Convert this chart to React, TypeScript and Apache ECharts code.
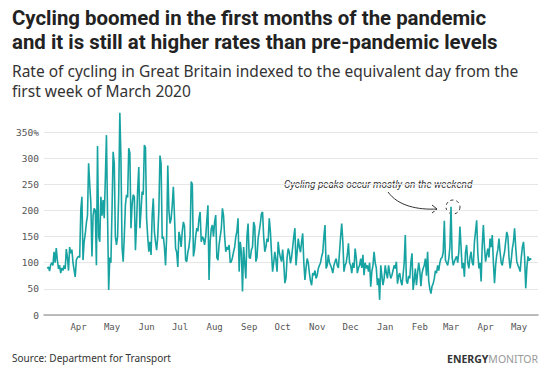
import React, { useEffect, useRef } from "react";
import * as echarts from "echarts";

// Daily cycling index (% of equivalent day in first week of March 2020), one array per month
const mar2020 = [null, null, null, 89, 92, 84, 96, 100, 95, 121, 100, 128, 105, 88, 95, 80, 90, 85, 95, 88, 126, 110, 85, 130, 118, 125, 100, 86, 73, 105, 110];
const apr2020 = [112, 110, 200, 226, 105, 140, 155, 176, 190, 290, 250, 215, 112, 190, 204, 200, 95, 323, 150, 140, 226, 190, 220, 185, 260, 344, 190, 48, 110, 100];
const may2020 = [200, 312, 290, 150, 134, 150, 230, 387, 300, 130, 102, 150, 210, 230, 225, 319, 310, 166, 210, 230, 226, 124, 175, 240, 283, 166, 200, 236, 230, 325, 320];
const jun2020 = [185, 150, 121, 140, 115, 190, 223, 159, 140, 124, 150, 200, 305, 290, 146, 150, 130, 95, 150, 286, 200, 175, 184, 210, 245, 190, 127, 120, 92, 159];
const jul2020 = [150, 130, 160, 178, 170, 105, 102, 120, 130, 150, 255, 250, 112, 125, 150, 166, 160, 185, 197, 140, 150, 146, 134, 150, 180, 210, 67, 140, 165, 172, 150];
const aug2020 = [178, 191, 110, 105, 134, 150, 165, 204, 190, 150, 121, 130, 125, 134, 100, 102, 110, 121, 130, 150, 160, 185, 83, 140, 120, 45, 130, 100, 70, 150, 175];
const sep2020 = [110, 108, 125, 130, 178, 170, 102, 110, 146, 160, 175, 194, 197, 150, 121, 130, 146, 140, 185, 160, 120, 83, 100, 121, 105, 83, 140, 120, 110, 102];
const oct2020 = [125, 100, 61, 70, 110, 127, 120, 99, 110, 130, 150, 166, 95, 120, 146, 130, 120, 140, 156, 100, 67, 90, 108, 100, 80, 65, 57, 80, 76, 85, 70];
const nov2020 = [76, 89, 95, 100, 112, 120, 150, 172, 89, 95, 115, 100, 95, 89, 80, 95, 102, 108, 95, 90, 120, 150, 175, 140, 83, 95, 100, 115, 137, 100];
const dec2020 = [95, 80, 100, 90, 127, 110, 80, 90, 95, 108, 90, 115, 76, 100, 89, 95, 83, 100, 54, 83, 95, 121, 100, 90, 57, 70, 29, 95, 75, 57, 70];
const jan2021 = [95, 80, 70, 95, 80, 70, 76, 85, 95, 89, 102, 60, 75, 80, 65, 57, 76, 100, 153, 65, 60, 75, 70, 100, 118, 48, 65, 89, 57, 80, 100];
const feb2021 = [85, 55, 80, 89, 95, 108, 75, 121, 65, 50, 41, 55, 60, 70, 85, 80, 95, 85, 100, 108, 110, 120, 180, 105, 100, 95, 108, 130];
const mar2021 = [207, 110, 95, 102, 108, 112, 100, 121, 169, 130, 89, 100, 73, 120, 134, 100, 89, 110, 121, 100, 95, 140, 160, 181, 120, 89, 100, 64, 134, 172, 130];
const apr2021 = [102, 115, 127, 110, 146, 130, 153, 100, 61, 95, 115, 125, 146, 120, 100, 95, 110, 120, 140, 159, 150, 110, 89, 105, 127, 140, 166, 130, 102, 95];
const may2021 = [90, 83, 110, 130, 140, 110, 51, 90, 112, 104, 108, 106];

const months: [number, number, (number | null)[]][] = [
  [2020, 3, mar2020], [2020, 4, apr2020], [2020, 5, may2020], [2020, 6, jun2020],
  [2020, 7, jul2020], [2020, 8, aug2020], [2020, 9, sep2020], [2020, 10, oct2020],
  [2020, 11, nov2020], [2020, 12, dec2020], [2021, 1, jan2021], [2021, 2, feb2021],
  [2021, 3, mar2021], [2021, 4, apr2021], [2021, 5, may2021],
];
const axisEndDay = 18; // axis runs to 18 May 2021
const monthLabels = ["Jan", "Feb", "Mar", "Apr", "May", "Jun", "Jul", "Aug", "Sep", "Oct", "Nov", "Dec"];
const yTicks = [0, 50, 100, 150, 200, 250, 300, 350];

const pad = (n: number) => (n < 10 ? "0" + n : "" + n);

function buildData() {
  const cats: string[] = [];
  const vals: (number | null)[] = [];
  months.forEach(([y, m, arr], mi) => {
    const n = mi === months.length - 1 ? axisEndDay : new Date(y, m, 0).getDate();
    for (let d = 1; d <= n; d++) {
      cats.push(`${y}-${pad(m)}-${pad(d)}`);
      vals.push(d <= arr.length ? arr[d - 1] : null);
    }
  });
  return { cats, vals };
}

export default function App() {
  const ref = useRef<HTMLDivElement>(null);
  useEffect(() => {
    if (!ref.current) return;
    const chart = echarts.init(ref.current, undefined, { renderer: "svg" });
    const { cats, vals } = buildData();
    const mono = "'DejaVu Sans Mono', monospace";
    const sans = "'Noto Sans', sans-serif";
    const head = "Roboto, 'Noto Sans', sans-serif";
    chart.setOption({
      animation: false,
      backgroundColor: "#ffffff",
      title: [
        {
          text: "Cycling boomed in the first months of the pandemic\nand it is still at higher rates than pre-pandemic levels",
          left: 12,
          top: 6,
          padding: 0,
          textStyle: { fontFamily: head, fontSize: 20.4, fontWeight: "bold", color: "#222", lineHeight: 24 },
        },
        {
          text: "Rate of cycling in Great Britain indexed to the equivalent day from the",
          left: 12,
          top: 61,
          padding: 0,
          textStyle: { fontFamily: sans, fontSize: 15.5, fontWeight: "normal", color: "#333", lineHeight: 19 },
        },
        {
          text: "first week of March 2020",
          left: 12,
          top: 81,
          padding: 0,
          textStyle: { fontFamily: sans, fontSize: 15.5, fontWeight: "normal", color: "#333", lineHeight: 19 },
        },
        {
          text: "Source: Department for Transport",
          left: 12,
          top: 353,
          padding: 0,
          textStyle: { fontFamily: sans, fontSize: 10, fontWeight: "normal", color: "#333" },
        },
        {
          text: "{a|ENERGY}{b|MONITOR}",
          right: 8,
          top: 353,
          padding: 0,
          textStyle: {
            rich: {
              a: { fontFamily: sans, fontSize: 10.5, fontWeight: "bold", color: "#333" },
              b: { fontFamily: sans, fontSize: 10.5, fontWeight: "normal", color: "#9a9a9a" },
            },
          },
        },
      ],
      grid: { left: 44, right: 8, top: 132, height: 183, containLabel: false },
      xAxis: {
        type: "category",
        data: cats,
        boundaryGap: false,
        axisLine: { show: true, lineStyle: { color: "#a8a8a8", width: 1.5 } },
        axisTick: { show: false },
        splitLine: { show: false },
        axisLabel: {
          interval: (_i: number, v: string) => v.endsWith("-01") && !v.startsWith("2020-03"),
          formatter: (v: string) => monthLabels[parseInt(v.slice(5, 7), 10) - 1],
          fontFamily: mono,
          fontSize: 9,
          color: "#555",
          margin: 7,
        },
      },
      yAxis: {
        type: "value",
        min: 0,
        max: yTicks[yTicks.length - 1],
        interval: 50,
        axisLine: { show: false },
        axisTick: { show: false },
        splitLine: { show: true, lineStyle: { color: "#e6e6e6", width: 1 } },
        axisLabel: {
          formatter: (v: number) => (v === 350 ? "350%" : String(v)),
          fontFamily: mono,
          fontSize: 9.5,
          color: "#555",
          margin: 5,
        },
      },
      series: [
        {
          type: "line",
          data: vals,
          clip: false,
          showSymbol: false,
          symbol: "none",
          connectNulls: false,
          lineStyle: { color: "#17a3a1", width: 1.6 },
          itemStyle: { color: "#17a3a1" },
        },
      ],
      graphic: [
        {
          type: "text",
          left: 284,
          top: 179,
          style: {
            text: "Cycling peaks occur mostly on the weekend",
            font: "italic 10px 'Liberation Sans Narrow', 'Roboto', sans-serif",
            fill: "#333",
          },
        },
        {
          type: "bezierCurve",
          shape: { x1: 388, y1: 192, cpx1: 398, cpy1: 206, cpx2: 418, cpy2: 210, x2: 437, y2: 209 },
          style: { stroke: "#333", lineWidth: 1, fill: "none" },
        },
        {
          type: "polyline",
          shape: { points: [[432, 205], [437, 209], [432, 213]] },
          style: { stroke: "#333", lineWidth: 1, fill: "none" },
        },
        {
          type: "circle",
          shape: { cx: 453, cy: 207, r: 7 },
          style: { stroke: "#333", lineWidth: 1, fill: "none", lineDash: [3, 3] },
        },
      ],
    });
    return () => chart.dispose();
  }, []);
  return <div ref={ref} style={{ width: 546, height: 380, position: "absolute", left: 0, top: 0 }} />;
}
